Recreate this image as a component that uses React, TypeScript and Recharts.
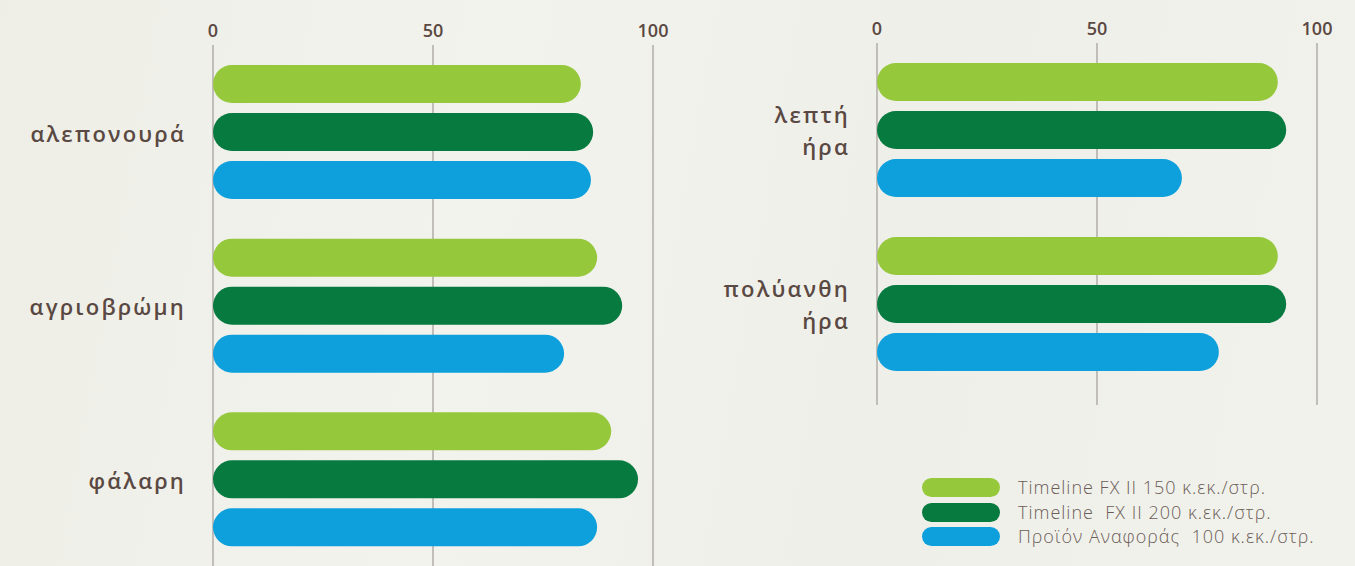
import { BarChart, Bar, XAxis, YAxis, CartesianGrid } from 'recharts';

const leftCategories = ['αλεπονουρά', 'αγριοβρώμη', 'φάλαρη'];
const leftFx150 = [83.6, 87.3, 90.5];
const leftFx200 = [86.4, 93.0, 96.6];
const leftReference = [85.9, 79.8, 87.3];

const rightCategories = ['λεπτή ήρα', 'πολύανθη ήρα'];
const rightFx150 = [91.1, 91.1];
const rightFx200 = [93.0, 93.0];
const rightReference = [69.3, 77.7];

const xTicks = [0, 50, 100];

// note: a data key called "ref" breaks react 19 (recharts spreads the entry onto the shape)
const seriesKeys = ['fx150', 'fx200', 'standard'];
const seriesNames = [
  'Timeline FX II 150 κ.εκ./στρ.',
  'Timeline  FX II 200 κ.εκ./στρ.',
  'Προϊόν Αναφοράς  100 κ.εκ./στρ.',
];
const seriesColors = ['#96c83c', '#077a40', '#0da0dc'];

const INK = '#5a4842';
const GRID = '#a19b96';
const FONT = '"Open Sans", "Noto Sans", sans-serif';

const leftData = leftCategories.map((name, i) => ({
  name,
  fx150: leftFx150[i],
  fx200: leftFx200[i],
  standard: leftReference[i],
}));

const rightData = rightCategories.map((name, i) => ({
  name,
  fx150: rightFx150[i],
  fx200: rightFx200[i],
  standard: rightReference[i],
}));

const renderValueTick = ({ x, y, payload }: any) => (
  <text x={x} y={y} textAnchor="middle" fill={INK} fontSize={18} fontWeight={600} fontFamily={FONT}>
    {payload.value}
  </text>
);

const renderCategoryTick = ({ x, y, payload }: any) => {
  const lines: string[] = String(payload.value).split(' ');
  const step = 32;
  return (
    <text
      x={x}
      y={y}
      textAnchor="end"
      fill={INK}
      fontSize={22}
      fontWeight={600}
      letterSpacing={2.2}
      fontFamily={FONT}
    >
      {lines.map((line, i) => (
        <tspan key={i} x={x} y={y + (i - (lines.length - 1) / 2) * step + (lines.length > 1 ? 1 : 2)} dy="0.35em">
          {line}
        </tspan>
      ))}
    </text>
  );
};

function Panel({ data, width, height, yWidth, right, axisHeight, padBottom }: any) {
  return (
    <BarChart
      width={width}
      height={height}
      data={data}
      layout="vertical"
      barGap={10}
      margin={{ top: 0, right, bottom: 0, left: 0 }}
    >
      <CartesianGrid horizontal={false} stroke={GRID} strokeWidth={1.2} />
      <XAxis
        type="number"
        orientation="top"
        domain={[0, 100]}
        ticks={xTicks}
        height={axisHeight}
        axisLine={false}
        tickLine={false}
        tickSize={0}
        tickMargin={8}
        tick={renderValueTick}
        interval={0}
      />
      <YAxis
        type="category"
        dataKey="name"
        width={yWidth}
        axisLine={false}
        tickLine={false}
        tickSize={0}
        tickMargin={27}
        tick={renderCategoryTick}
        padding={{ top: 0, bottom: padBottom }}
        interval={0}
      />
      {seriesKeys.map((key, i) => (
        <Bar
          key={key}
          dataKey={key}
          name={seriesNames[i]}
          fill={seriesColors[i]}
          barSize={38}
          radius={19}
          isAnimationActive={false}
        />
      ))}
    </BarChart>
  );
}

export default function App() {
  return (
    <div
      style={{
        position: 'absolute',
        left: 0,
        top: 0,
        width: 1355,
        height: 566,
        overflow: 'hidden',
        fontFamily: FONT,
        background: 'linear-gradient(100deg, #eeeee7 0%, #f3f3ee 35%, #efefe9 65%, #f2f2ec 100%)',
      }}
    >
      <div style={{ position: 'absolute', left: 0, top: 0 }}>
        <Panel data={leftData} width={700} height={566} yWidth={213} right={47} axisHeight={45} padBottom={0} />
      </div>
      <div style={{ position: 'absolute', left: 680, top: 0 }}>
        <Panel data={rightData} width={675} height={405} yWidth={197} right={38} axisHeight={43} padBottom={14} />
      </div>
      <div style={{ position: 'absolute', left: 922, top: 478 }}>
        {seriesNames.map((name, i) => (
          <div key={name} style={{ display: 'flex', alignItems: 'center', height: 19, marginBottom: 5.5 }}>
            <div style={{ width: 78, height: 19, borderRadius: 9.5, background: seriesColors[i] }} />
            <span
              style={{
                marginLeft: 18,
                fontSize: 18,
                fontWeight: 300,
                letterSpacing: 1,
                color: '#6b5d58',
                whiteSpace: 'pre',
                lineHeight: '19px',
              }}
            >
              {name}
            </span>
          </div>
        ))}
      </div>
    </div>
  );
}
